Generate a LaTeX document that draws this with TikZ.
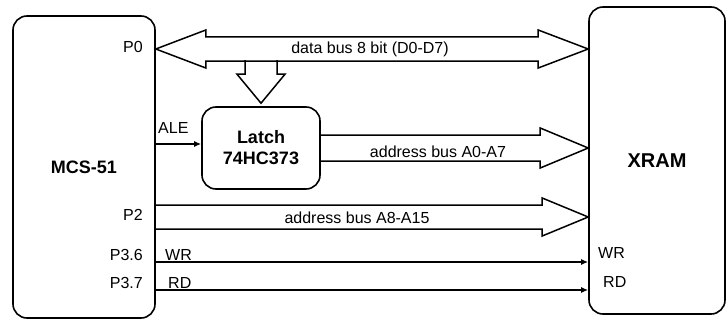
\documentclass[tikz,border=0pt]{standalone}
\usepackage{fontspec}
\setmainfont{Liberation Sans}
\usetikzlibrary{arrows.meta, calc}

\begin{document}
\begin{tikzpicture}[x=1pt, y=-1pt,
    box/.style={draw, line width=1.6pt, rounded corners=14pt, inner sep=0pt, align=center, font=\fontsize{18}{21}\selectfont\bfseries},
    bus/.style={draw, line width=1.5pt, line join=miter},
    sig/.style={-{Latex[length=7pt,width=6pt]}, line width=1.5pt},
    lbl/.style={inner sep=0pt, font=\fontsize{16}{18}\selectfont}
  ]
    \useasboundingbox (0,0) rectangle (727,321);
    \node[box, minimum width=142pt, minimum height=302pt] (mcs) at (84,167) {MCS-51};
    \node[box, minimum width=136pt, minimum height=307pt, font=\fontsize{20}{24}\selectfont\bfseries] (xram) at (657,160.5) {XRAM};
    \node[box, minimum width=118pt, minimum height=82pt] (latch) at (261,148) {Latch\\74HC373};
    % bus end points
    \coordinate (d0) at (mcs.east |- 0,49);
    \coordinate (d1) at (xram.west |- d0);
    \coordinate (a1) at (xram.west |- latch.east);
    \coordinate (b0) at (mcs.east |- 0,217);
    \coordinate (b1) at (xram.west |- b0);
    \coordinate (dn) at ($(latch.north)+(0,-3)$);
    \coordinate (ale) at ($(latch.west)+(0,-4)$);
    \coordinate (wr0) at (mcs.east |- 0,262);
    \coordinate (wr1) at (xram.west |- wr0);
    \coordinate (rd0) at (mcs.east |- 0,290);
    \coordinate (rd1) at (xram.west |- rd0);
    % data bus
    \draw[bus] ($(dn)+(-16,-43)$) -- ++(0,14) -- ++(-8,0) -- (dn) -- ++(24,-29) -- ++(-8,0) -- ++(0,-14);
    \draw[bus] (d0) -- ++(50,-19) -- ++(0,7) -- ($(d1)+(-50,-12)$) -- ++(0,-7) -- (d1)
      -- ++(-50,19) -- ++(0,-7) -- ($(d0)+(50,12)$) -- ++(0,7) -- cycle;
    % address buses
    \draw[bus] ($(latch.east)+(0,-13)$) -- ($(a1)+(-48,-13)$) -- ++(0,-7) -- (a1)
      -- ++(-48,20) -- ++(0,-7) -- ($(latch.east)+(0,13)$);
    \draw[bus] ($(b0)+(0,-12)$) -- ($(b1)+(-46,-12)$) -- ++(0,-7) -- (b1)
      -- ++(-46,19) -- ++(0,-7) -- ($(b0)+(0,12)$);
    % control lines
    \draw[sig] (mcs.east |- ale) -- (ale);
    \draw[sig] (wr0) -- (wr1);
    \draw[sig] (rd0) -- (rd1);
    % labels
    \node[lbl] (dlbl) at (370,49) {data bus 8 bit (D0-D7)};
    \node[lbl] (albl) at (438,152) {address bus A0-A7};
    \node[lbl] (blbl) at (357,218) {address bus A8-A15};
    \node[lbl, anchor=east] (p0) at (143,47) {P0};
    \node[lbl, anchor=west] (alel) at (158,128) {ALE};
    \node[lbl, anchor=east] (p2) at (143,215) {P2};
    \node[lbl, anchor=east] (p36) at (143,255) {P3.6};
    \node[lbl, anchor=east] (p37) at (143,283) {P3.7};
    \node[lbl, anchor=west] (wrl) at (165,255) {WR};
    \node[lbl, anchor=west] (rdl) at (168,283) {RD};
    \node[lbl, anchor=west] (wrr) at (598,253) {WR};
    \node[lbl, anchor=west] (rdr) at (603,282) {RD};
\end{tikzpicture}
\end{document}
